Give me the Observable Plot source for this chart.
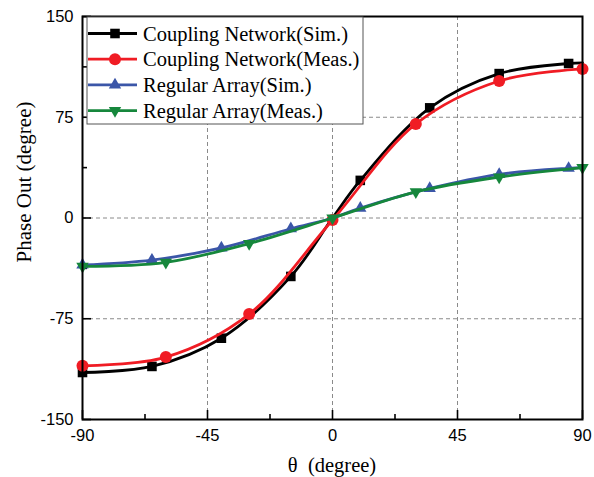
<!DOCTYPE html>
<html><head><meta charset="utf-8">
<script src="https://cdn.jsdelivr.net/npm/d3@7"></script>
<script src="https://cdn.jsdelivr.net/npm/@observablehq/plot@0.6"></script>
<style>body{margin:0;background:#fff}#chart{width:594px;height:477px}</style>
</head><body><div id="chart"></div>
<script>
// ---- data ----
const simTheta = [-90, -65, -40, -15, 0, 10, 35, 60, 85, 90];
const couplingSim = [-115, -110.5, -89.5, -43.5, 0, 28, 82, 107.5, 115, 115.5];
const regularSim = [-35, -31.3, -22.3, -8, 0, 7.3, 22, 32.5, 37, 37.5];
const simMarkerTheta = [-90, -65, -40, -15, 10, 35, 60, 85];
const measTheta = [-90, -60, -30, 0, 30, 60, 90];
const couplingMeas = [-110, -103.5, -71.5, -1.5, 70, 102, 111];
const regularMeas = [-36, -33, -19, 0, 19.5, 30.5, 37.5];
const seriesNames = ["Coupling Network(Sim.)", "Coupling Network(Meas.)", "Regular Array(Sim.)", "Regular Array(Meas.)"];
const xTicks = [-90, -45, 0, 45, 90];
const xMinorTicks = [-67.5, -22.5, 22.5, 67.5];
const yTicks = [-150, -75, 0, 75, 150];
const yMinorTicks = [-112.5, -37.5, 37.5, 112.5];
const xGrid = [-45, 0, 45];
const yGrid = [-75, 0, 75];
const xTitle = "θ  (degree)";
const yTitle = "Phase Out (degree)";

// ---- styles ----
const W = 594, H = 477, ML = 82, MR = 12, MT = 16, MB = 58;
const innerW = W - ML - MR, innerH = H - MT - MB;
const colors = ["#000000", "#f01c24", "#3b56a8", "#16873c"];
const triDown = {
  draw(ctx, size) {
    const y = -Math.sqrt(size / (Math.sqrt(3) * 3));
    ctx.moveTo(0, -2 * y);
    ctx.lineTo(-Math.sqrt(3) * y, y);
    ctx.lineTo(Math.sqrt(3) * y, y);
    ctx.closePath();
  }
};
const symbols = ["square", "circle", "triangle", triDown];
const d3Symbols = [d3.symbolSquare, d3.symbolCircle, d3.symbolTriangle, triDown];
const radii = [5.4, 6, 4.6, 4.6];

const rows = (xs, ys) => xs.map((x, i) => ({x, y: ys[i]}));
const simC = rows(simTheta, couplingSim);
const simR = rows(simTheta, regularSim);
const mC = rows(measTheta, couplingMeas);
const mR = rows(measTheta, regularMeas);
const onMarker = d => simMarkerTheta.includes(d.x);
const series = [
  {line: simC, marks: simC.filter(onMarker)},
  {line: mC, marks: mC},
  {line: simR, marks: simR.filter(onMarker)},
  {line: mR, marks: mR}
];

const tickFont = {fontSize: 16.5, fontFamily: "Liberation Sans, Arial, sans-serif", fill: "#000"};
const marks = [
  Plot.gridX(xGrid, {stroke: "#8a8a8a", strokeOpacity: 1, strokeDasharray: "4,3", strokeWidth: 1}),
  Plot.gridY(yGrid, {stroke: "#8a8a8a", strokeOpacity: 1, strokeDasharray: "4,3", strokeWidth: 1}),
  Plot.axisX(xTicks, {tickSize: 0, tickPadding: 10, tickFormat: d => String(d), label: null, ...tickFont}),
  Plot.axisY(yTicks, {tickSize: 0, tickPadding: 9, tickFormat: d => String(d), label: null, ...tickFont}),
  // inward ticks
  Plot.tickX(xTicks, {x: d => d, insetTop: innerH - 9, stroke: "#000", strokeWidth: 1.6}),
  Plot.tickX(xMinorTicks, {x: d => d, insetTop: innerH - 5, stroke: "#000", strokeWidth: 1.6}),
  Plot.tickY(yTicks, {y: d => d, insetRight: innerW - 9, stroke: "#000", strokeWidth: 1.6}),
  Plot.tickY(yMinorTicks, {y: d => d, insetRight: innerW - 5, stroke: "#000", strokeWidth: 1.6})
];
series.forEach((s, i) => {
  marks.push(Plot.line(s.line, {x: "x", y: "y", stroke: colors[i], strokeWidth: 2.8, curve: "catmull-rom"}));
  marks.push(Plot.dot(s.marks, {x: "x", y: "y", fill: colors[i], stroke: "none", symbol: () => symbols[i], r: radii[i]}));
});
marks.push(Plot.frame({stroke: "#000", strokeWidth: 2}));

const chart = Plot.plot({
  width: W, height: H,
  marginLeft: ML, marginRight: MR, marginTop: MT, marginBottom: MB,
  x: {domain: [-90, 90]},
  y: {domain: [-150, 150]},
  style: {background: "#fff", overflow: "visible"},
  marks
});
document.getElementById("chart").appendChild(chart);

// ---- axis titles and legend ----
const svg = d3.select(chart);
const serif = "Liberation Serif, Times New Roman, serif";
svg.append("text").text(xTitle)
  .attr("x", 332).attr("y", 472).attr("text-anchor", "middle")
  .attr("font-family", serif).attr("font-size", 20.5).attr("fill", "#000");
svg.append("text").text(yTitle)
  .attr("transform", "translate(31,182) rotate(-90)").attr("text-anchor", "middle")
  .attr("font-family", serif).attr("font-size", 21).attr("fill", "#000");

const lg = svg.append("g");
lg.append("rect").attr("x", 87).attr("y", 17).attr("width", 276).attr("height", 107)
  .attr("fill", "#fff").attr("stroke", "#555").attr("stroke-width", 1);
seriesNames.forEach((name, i) => {
  const y = 33.5 + i * 25.7;
  lg.append("line").attr("x1", 88).attr("x2", 137).attr("y1", y).attr("y2", y)
    .attr("stroke", colors[i]).attr("stroke-width", 2.8);
  lg.append("path").attr("transform", `translate(115,${y})`)
    .attr("d", d3.symbol(d3Symbols[i], radii[i] * radii[i] * Math.PI)())
    .attr("fill", colors[i]);
  lg.append("text").text(name).attr("x", 143).attr("y", y).attr("dy", "0.35em")
    .attr("text-anchor", "start")
    .attr("font-family", serif).attr("font-size", 20.5).attr("fill", "#000");
});
</script>
</body></html>
